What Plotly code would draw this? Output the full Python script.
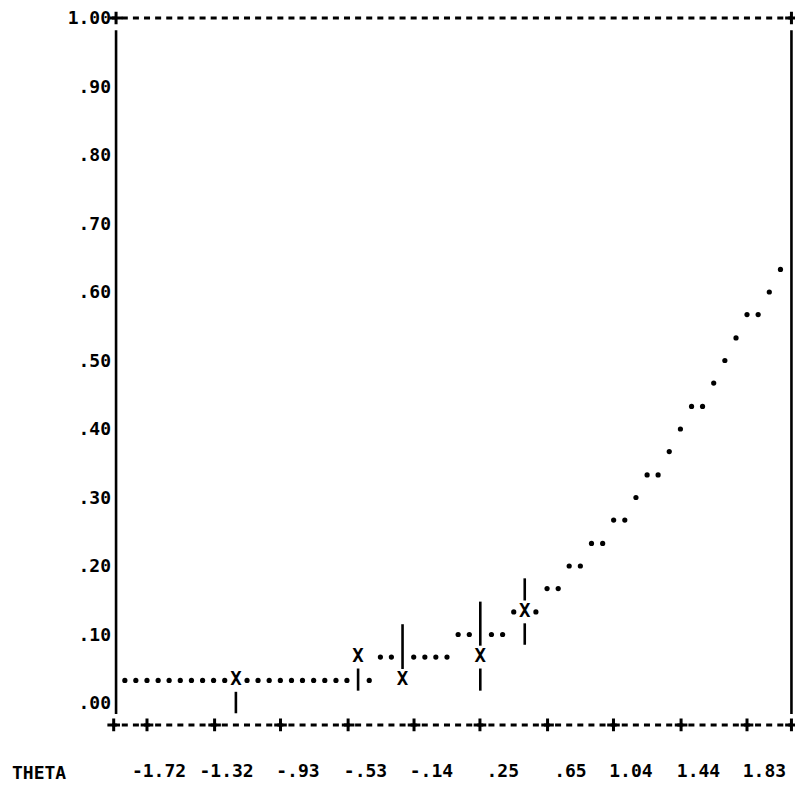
import plotly.graph_objects as go

# ---- ability scale (x) -------------------------------------------------
theta_ticks = [-1.72, -1.32, -0.93, -0.53, -0.14, 0.25, 0.65, 1.04, 1.44, 1.83]
theta_labels = ["-1.72", "-1.32", "-.93", "-.53", "-.14", ".25", ".65", "1.04", "1.44", "1.83"]

# ---- probability scale (y) ---------------------------------------------
p_ticks = [0.0, 0.1, 0.2, 0.3, 0.4, 0.5, 0.6, 0.7, 0.8, 0.9, 1.0]
p_labels = [".00", ".10", ".20", ".30", ".40", ".50", ".60", ".70", ".80", ".90", "1.00"]

# ---- fitted item characteristic curve (one printed dot per column) -----
curve_theta = [
    -1.851, -1.786, -1.720, -1.654, -1.589, -1.523, -1.457, -1.391, -1.326, -1.260,
    -1.128, -1.063, -0.997, -0.931, -0.865, -0.800, -0.734, -0.668, -0.602, -0.537,
    -0.405, -0.339, -0.274,
    -0.142, -0.076, -0.011, 0.055, 0.121, 0.187,
    0.318, 0.384, 0.450,
    0.581, 0.647, 0.713, 0.778, 0.844, 0.910, 0.976, 1.041, 1.107, 1.173,
    1.239, 1.304, 1.370, 1.436, 1.502, 1.567, 1.633, 1.699, 1.765, 1.830,
    1.896, 1.962, 2.028,
]
curve_p = [
    0.033, 0.033, 0.033, 0.033, 0.033, 0.033, 0.033, 0.033, 0.033, 0.033,
    0.033, 0.033, 0.033, 0.033, 0.033, 0.033, 0.033, 0.033, 0.033, 0.033,
    0.033, 0.067, 0.067,
    0.067, 0.067, 0.067, 0.067, 0.100, 0.100,
    0.100, 0.100, 0.133,
    0.133, 0.167, 0.167, 0.200, 0.200, 0.233, 0.233, 0.267, 0.267, 0.300,
    0.333, 0.333, 0.367, 0.400, 0.433, 0.433, 0.467, 0.500, 0.533, 0.567,
    0.567, 0.600, 0.633,
]

# ---- observed proportions and their interval limits --------------------
obs_theta = [-1.194, -0.471, -0.208, 0.252, 0.515]
obs_p = [0.033, 0.067, 0.033, 0.067, 0.133]
obs_lo = [0.000, 0.033, 0.033, 0.033, 0.100]
obs_hi = [0.033, 0.067, 0.100, 0.133, 0.167]

# ---- print-grid geometry -----------------------------------------------
ROW = 1.0 / 30.0            # one printer line in probability units
FRAME_L, FRAME_R = -1.917, 2.093
BAR_L = -1.903              # left rule sits slightly inside the corner
TOP, BOTTOM = 1.0, -0.032
RULE_TOP, RULE_BOT = 0.982, -0.016

FONT = dict(family="DejaVu Sans Mono", size=18, color="black", weight="bold")
INK = "black"

fig = go.Figure()

# interval bars, printed as runs of '|' above and below each X
bx, by = [], []
for t, p, lo, hi in zip(obs_theta, obs_p, obs_lo, obs_hi):
    if lo < p - 1e-6:
        bx += [t, t, None]
        by += [lo - 0.45 * ROW, p - 0.5 * ROW, None]
    if hi > p + 1e-6:
        bx += [t, t, None]
        by += [p + 0.5 * ROW, hi + 0.45 * ROW, None]
fig.add_trace(go.Scatter(x=bx, y=by, mode="lines",
                         line=dict(color=INK, width=2.6),
                         hoverinfo="skip", showlegend=False))

# fitted curve dots
fig.add_trace(go.Scatter(x=curve_theta, y=curve_p, mode="markers",
                         marker=dict(symbol="circle", size=5.2, color=INK,
                                     line=dict(width=0)),
                         cliponaxis=False, showlegend=False))

# observed points
fig.add_trace(go.Scatter(x=obs_theta, y=obs_p, mode="text", text=["X"] * len(obs_p),
                         textposition="middle center", textfont=dict(FONT, size=19),
                         cliponaxis=False, showlegend=False))

# corner and tick crosses on the top and bottom rules
cross_x = [FRAME_L] + theta_ticks + [FRAME_R] + [BAR_L, FRAME_R]
cross_y = [BOTTOM] * (len(theta_ticks) + 2) + [TOP, TOP]
fig.add_trace(go.Scatter(x=cross_x, y=cross_y, mode="markers",
                         marker=dict(symbol="cross-thin", size=9,
                                     line=dict(color=INK, width=3)),
                         cliponaxis=False, hoverinfo="skip", showlegend=False))

# dashed horizontal rules and solid vertical rules
dash_pad = 3 / 169.0
for yv in (TOP, BOTTOM):
    fig.add_shape(type="line", xref="x", yref="y",
                  x0=FRAME_L - dash_pad, x1=FRAME_R, y0=yv, y1=yv,
                  line=dict(color=INK, width=3, dash="6px,5.11px"))
for xv in (BAR_L, FRAME_R):
    fig.add_shape(type="line", xref="x", yref="y",
                  x0=xv, x1=xv, y0=RULE_BOT, y1=RULE_TOP,
                  line=dict(color=INK, width=2.6))

W, H = 795, 788
ML, MR, MT, MB = 112, 0, 5, 30
PW, PH = W - ML - MR, H - MT - MB

fig.add_annotation(text="THETA", xref="paper", yref="paper",
                   x=(10 - ML) / PW, y=(H - MB - 772) / PH,
                   xanchor="left", yanchor="middle", showarrow=False,
                   font=FONT)

pad_labels = [s.rjust(5, "\u00a0") for s in theta_labels]

fig.update_layout(
    width=W, height=H, autosize=False,
    margin=dict(l=ML, r=MR, t=MT, b=MB, pad=0),
    paper_bgcolor="white", plot_bgcolor="white",
    showlegend=False,
    xaxis=dict(range=[-1.927, 2.114], showgrid=False, zeroline=False,
               showline=False, ticks="", tickmode="array",
               tickvals=theta_ticks, ticktext=pad_labels,
               tickfont=FONT, ticklabelshift=12, automargin=False,
               fixedrange=True),
    yaxis=dict(range=[-0.0803, 1.019], showgrid=False, zeroline=False,
               showline=False, ticks="", tickmode="array",
               tickvals=p_ticks, ticktext=p_labels,
               tickfont=FONT, automargin=False, fixedrange=True),
)

fig.write_html("out.html")
